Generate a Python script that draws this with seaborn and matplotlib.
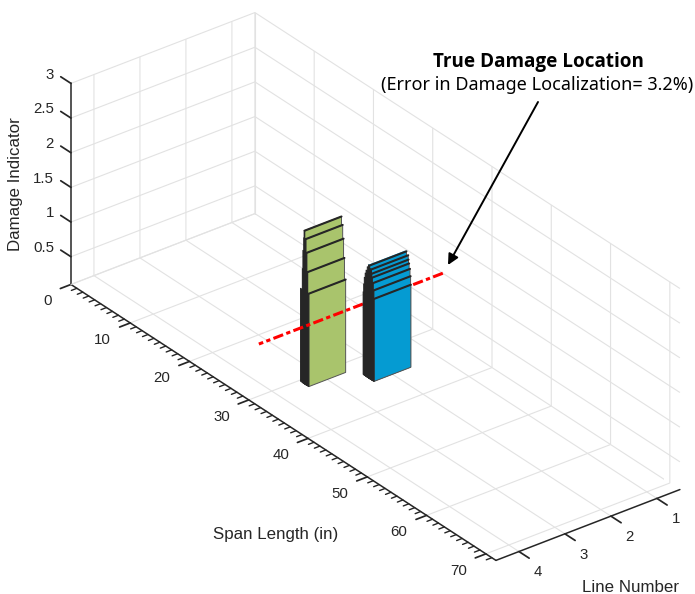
import seaborn as sns
import matplotlib
matplotlib.use("Agg")
import matplotlib.pyplot as plt
from mpl_toolkits.mplot3d import proj3d

sns.set_theme(style="white")
plt.rcParams['font.family'] = ['Liberation Sans', 'DejaVu Sans']

# bars, tallest first: front / back of the bar along the span and its height
green_line = 3
green_front = [30.9, 31.1, 31.25, 31.4, 31.6]
green_back = [30.8, 30.75, 30.6, 30.5, 30.2]
green_height = [2.31, 2.2, 2.01, 1.74, 1.44]

blue_line = 2
blue_front = [34.1, 34.4, 34.45, 34.55, 34.7, 34.8, 34.85]
blue_back = [33.9, 33.7, 33.5, 33.35, 33.2, 33.1, 33.0]
blue_height = [1.73, 1.69, 1.63, 1.58, 1.51, 1.41, 1.29]

damage_span = 31.7
damage_level = 1.0
damage_lines = [0.5, 4.5]

span_ticks = [0, 10, 20, 30, 40, 50, 60, 70]
line_ticks = [1, 2, 3, 4]
level_ticks = [0.5, 1, 1.5, 2, 2.5, 3]
level_labels = ['0.5', '1', '1.5', '2', '2.5', '3']

DARK = '#262626'
GREEN = '#a9c46c'
BLUE = '#059bd2'
GRID = '#e2e2e2'
CLEAR = (0, 0, 0, 0)
FLOOR = 0.1
SPAN_MAX = 71.7
W, H = 695, 594


def draw_bars(ax, line, fronts, backs, heights, color, first_zorder):
	left, right = line - 0.4, line + 0.4
	for i, (front, back, height) in enumerate(zip(fronts, backs, heights)):
		# only the front, the side and the top of the tallest one can be seen
		top = color if i == 0 else CLEAR
		ax.bar3d(left, back, FLOOR, right - left, front - back, height - FLOOR,
			color=[CLEAR, top, CLEAR, color, CLEAR, DARK],
			edgecolors=[CLEAR, CLEAR, CLEAR, '#555555', CLEAR, DARK],
			linewidths=0.7, shade=False, zorder=first_zorder + i)
		ax.plot([left, right], [front, front], [height, height], color=DARK, linewidth=1.5,
			solid_capstyle='round', zorder=first_zorder + i + 0.5)


def tick_label(ax, line, span, level, text, ha):
	xs, ys, _ = proj3d.proj_transform(line, span, level, ax.get_proj())
	ax.text2D(xs, ys, text, transform=ax.transData, color=DARK, fontsize=10.8, ha=ha, va='center')


fig = plt.figure(figsize=(W / 100, H / 100), dpi=100)
ax = fig.add_axes([19.9 / W, 2.5 / H, 1, 1], projection='3d', proj_type='ortho')
ax.computed_zorder = False
ax.set_box_aspect((1, 3, 1), zoom=1.2585)
ax.view_init(elev=30, azim=52.4)
ax.patch.set_alpha(0)

draw_bars(ax, green_line, green_front, green_back, green_height, GREEN, 10)
ax.plot(damage_lines, [damage_span] * 2, [damage_level] * 2,
	color='red', linestyle=(0, (3.4, 1.1, 1.4, 1.1)), linewidth=2.2, zorder=20)
draw_bars(ax, blue_line, blue_front, blue_back, blue_height, BLUE, 30)

# back edges of the box
ax.plot([0.5, 4.5], [0, 0], [FLOOR, FLOOR], color=GRID, linewidth=0.8, zorder=1)
ax.plot([0.5, 0.5], [0, SPAN_MAX], [FLOOR, FLOOR], color=GRID, linewidth=0.8, zorder=1)
ax.plot([0.5, 0.5], [0, 0], [FLOOR, 3], color=GRID, linewidth=0.8, zorder=1)

# minor ticks of the span axis
for minor in range(0, 72):
	if minor % 10:
		ax.plot([4.5, 4.62], [minor, minor], [FLOOR, FLOOR], color=DARK, linewidth=1, zorder=2)

ax.set_xlim(0.5, 4.5, view_margin=0)
ax.set_ylim(0, SPAN_MAX, view_margin=0)
ax.set_zlim(FLOOR, 3, view_margin=0)
ax.set_xticks(line_ticks)
ax.set_yticks(span_ticks)
ax.set_zticks(level_ticks)
ax.zaxis.set_ticks_position('lower')
# z ticks run along the span, as they do in the original figure
ax.zaxis._get_tickdir = lambda position: 1

for axis in (ax.xaxis, ax.yaxis, ax.zaxis):
	axis.set_pane_color((1, 1, 1, 0))
	axis.pane.set_edgecolor((1, 1, 1, 0))
	axis.line.set_color(DARK)
	axis.line.set_linewidth(1.1)
	axis._axinfo['grid'].update(color=GRID, linewidth=0.8)
	axis.set_tick_params(label1On=False, color=DARK, width=1)
	axis.label.set_visible(False)
	axis.offsetText.set_visible(False)
ax.xaxis._axinfo['tick'].update(inward_factor=0, outward_factor=-0.3)
ax.yaxis._axinfo['tick'].update(inward_factor=0, outward_factor=-0.72)
ax.zaxis._axinfo['tick'].update(inward_factor=0, outward_factor=0.3)

for tick in line_ticks:
	tick_label(ax, tick, SPAN_MAX + 3.2, -0.024, str(tick), 'center')
for tick in span_ticks:
	tick_label(ax, 4.913, tick, -0.04, str(tick), 'right')
for tick, label in zip(level_ticks, level_labels):
	tick_label(ax, 4.5, -2.88, tick - 0.036, label, 'right')

fig.text(276 / W, 1 - 535 / H, 'Span Length (in)', color=DARK, fontsize=12.2, ha='center', va='center')
fig.text(630 / W, 1 - 587 / H, 'Line Number', color=DARK, fontsize=12.2, ha='center', va='center')
fig.text(16 / W, 1 - 184 / H, 'Damage Indicator', color=DARK, fontsize=12.2, rotation=90, ha='center', va='center')

fig.text(538 / W, 1 - 62 / H, 'True Damage Location', color='black', fontsize=13.6, fontweight='bold',
	family='Open Sans', ha='center', va='center')
fig.text(537.5 / W, 1 - 85 / H, '(Error in Damage Localization= 3.2%)', color='black', fontsize=13,
	family='Noto Sans', ha='center', va='center')
ax.annotate('', xy=(448 / W, 1 - 265 / H), xytext=(538 / W, 1 - 102 / H),
	xycoords='figure fraction', textcoords='figure fraction',
	arrowprops=dict(arrowstyle='-|>', color='black', linewidth=1.4, mutation_scale=16, shrinkA=0, shrinkB=0))

fig.savefig('out.png', dpi=100)
